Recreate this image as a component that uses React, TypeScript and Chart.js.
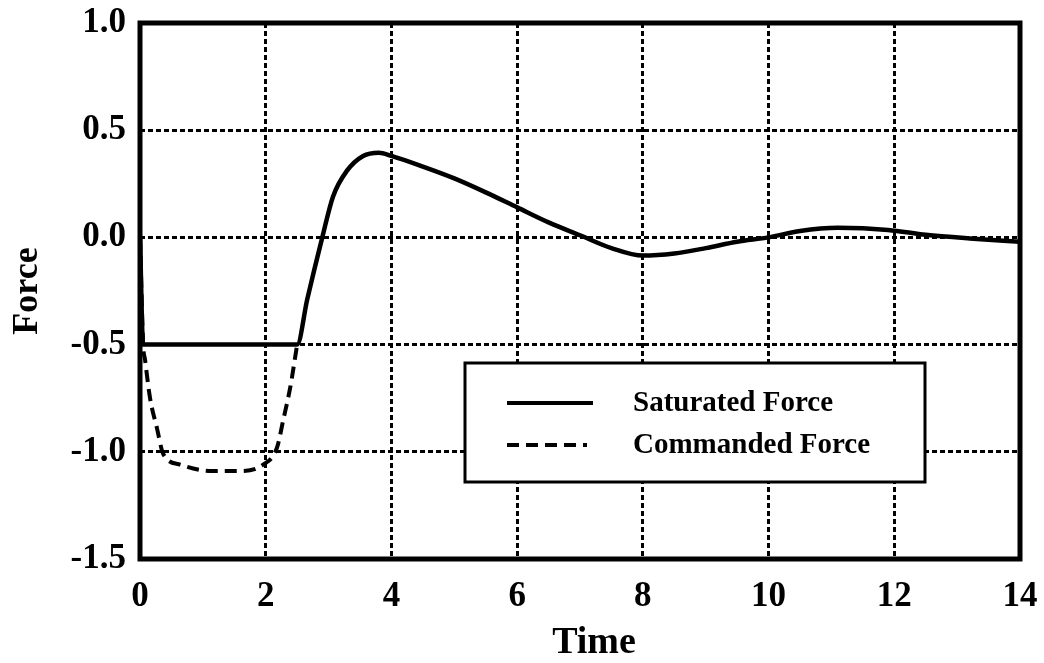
import React, { useEffect, useRef } from "react";
import { Chart, registerables } from "chart.js";

Chart.register(...registerables);

// Saturated (actuator-limited) force vs time
const satTime = [0, 0.05, 2.5, 2.66, 2.9, 3.07, 3.29, 3.55, 3.8, 4.0, 4.5, 5.0, 5.5, 6.0, 6.5, 7.0, 7.5, 8.0, 8.5, 9.0, 9.5, 10.0, 10.5, 11.1, 11.9, 12.5, 13.2, 14.0];
const satForce = [0, -0.5, -0.5, -0.29, 0.0, 0.19, 0.31, 0.38, 0.395, 0.38, 0.33, 0.275, 0.21, 0.14, 0.07, 0.01, -0.05, -0.085, -0.075, -0.05, -0.02, 0.0, 0.03, 0.045, 0.035, 0.012, -0.005, -0.02];

// Commanded force (differs from the saturated one only while |F| > 0.5)
const cmdTime = [0, 0.05, 0.08, 0.16, 0.27, 0.37, 0.64, 1.16, 1.59, 1.96, 2.18, 2.28, 2.39, 2.5];
const cmdForce = [0, -0.5, -0.57, -0.75, -0.89, -1.01, -1.06, -1.09, -1.09, -1.06, -0.98, -0.85, -0.7, -0.5];

const seriesLabels = ["Saturated Force", "Commanded Force"];
const xTicks = [0, 2, 4, 6, 8, 10, 12, 14];
const yTicks = [-1.5, -1.0, -0.5, 0.0, 0.5, 1.0];
const xTitle = "Time";
const yTitle = "Force";

const SERIF = "'Liberation Serif', 'Times New Roman', serif";

const framePlugin = {
  id: "frameAndKey",
  afterDraw(chart: any) {
    const { ctx, chartArea } = chart;
    const { left, top, right, bottom } = chartArea;
    ctx.save();
    // plot frame
    ctx.setLineDash([]);
    ctx.strokeStyle = "#000";
    ctx.lineWidth = 5;
    ctx.strokeRect(left, top, right - left, bottom - top);

    // x-axis title, sitting a little right of centre
    ctx.fillStyle = "#000";
    ctx.font = `bold 38px ${SERIF}`;
    ctx.textAlign = "center";
    ctx.textBaseline = "middle";
    ctx.fillText(xTitle, (left + right) / 2 + 14, bottom + 84);

    // key box
    const bx = left + 325;
    const by = top + 340;
    const bw = 460;
    const bh = 119;
    ctx.fillStyle = "#fff";
    ctx.fillRect(bx, by, bw, bh);
    ctx.lineWidth = 3;
    ctx.strokeRect(bx, by, bw, bh);

    const ds = chart.data.datasets;
    const rows = [by + 40, by + 82];
    ds.forEach((d: any, i: number) => {
      ctx.beginPath();
      ctx.lineWidth = 4;
      ctx.setLineDash(d.borderDash || []);
      ctx.moveTo(bx + 42, rows[i]);
      ctx.lineTo(bx + (i === 0 ? 128 : 122), rows[i]);
      ctx.stroke();
      ctx.setLineDash([]);
      ctx.fillStyle = "#000";
      ctx.font = `bold 29px ${SERIF}`;
      ctx.textBaseline = "middle";
      ctx.textAlign = "left";
      ctx.fillText(d.label, bx + 168, rows[i] + 1);
    });
    ctx.restore();
  },
};

const noOverflow = (axis: any) => {
  axis.paddingTop = 0;
  axis.paddingBottom = 0;
  axis.paddingLeft = 0;
  axis.paddingRight = 0;
};

export default function App() {
  const canvasRef = useRef<HTMLCanvasElement | null>(null);

  useEffect(() => {
    const canvas = canvasRef.current;
    if (!canvas) return;
    const chart = new Chart(canvas, {
      type: "line",
      data: {
        datasets: [
          {
            label: seriesLabels[0],
            data: satTime.map((t, i) => ({ x: t, y: satForce[i] })),
            borderColor: "#000",
            borderWidth: 4.5,
            pointRadius: 0,
            cubicInterpolationMode: "monotone",
            fill: false,
          },
          {
            label: seriesLabels[1],
            data: cmdTime.map((t, i) => ({ x: t, y: cmdForce[i] })),
            borderColor: "#000",
            borderWidth: 4,
            borderDash: [12, 7],
            pointRadius: 0,
            cubicInterpolationMode: "monotone",
            fill: false,
          },
        ],
      },
      options: {
        responsive: false,
        animation: false,
        layout: { padding: { top: 23, right: 24, left: 0, bottom: 0 } },
        plugins: {
          legend: { display: false },
          tooltip: { enabled: false },
        },
        scales: {
          x: {
            type: "linear",
            min: 0,
            max: 14,
            afterBuildTicks: (axis: any) => {
              axis.ticks = xTicks.map((v) => ({ value: v }));
            },
            afterFit: (axis: any) => {
              axis.height = 104;
              noOverflow(axis);
            },
            ticks: {
              color: "#000",
              font: { family: SERIF, size: 35, weight: "bold" },
              padding: 17,
              maxRotation: 0,
              callback: (v: any) => String(v),
            },
            grid: {
              color: "#000",
              lineWidth: 3,
              drawTicks: false,
            },
            border: { display: false, dash: [5, 3] },
            title: { display: false },
          },
          y: {
            type: "linear",
            min: -1.5,
            max: 1.0,
            afterBuildTicks: (axis: any) => {
              axis.ticks = yTicks.map((v) => ({ value: v }));
            },
            afterFit: (axis: any) => {
              axis.width = 140;
              noOverflow(axis);
            },
            ticks: {
              color: "#000",
              font: { family: SERIF, size: 35, weight: "bold" },
              padding: 14,
              callback: (v: any) => Number(v).toFixed(1),
            },
            grid: {
              color: "#000",
              lineWidth: 3,
              drawTicks: false,
            },
            border: { display: false, dash: [5, 3] },
            title: {
              display: true,
              text: yTitle,
              color: "#000",
              font: { family: SERIF, size: 36, weight: "bold", lineHeight: 1 },
              padding: { top: 10, bottom: 0 },
            },
          },
        },
      },
      plugins: [framePlugin],
    } as any);
    return () => chart.destroy();
  }, []);

  return (
    <div style={{ position: "absolute", left: 0, top: 0, width: 1044, height: 663, background: "#fff" }}>
      <canvas ref={canvasRef} width={1044} height={663} style={{ display: "block" }} />
    </div>
  );
}
